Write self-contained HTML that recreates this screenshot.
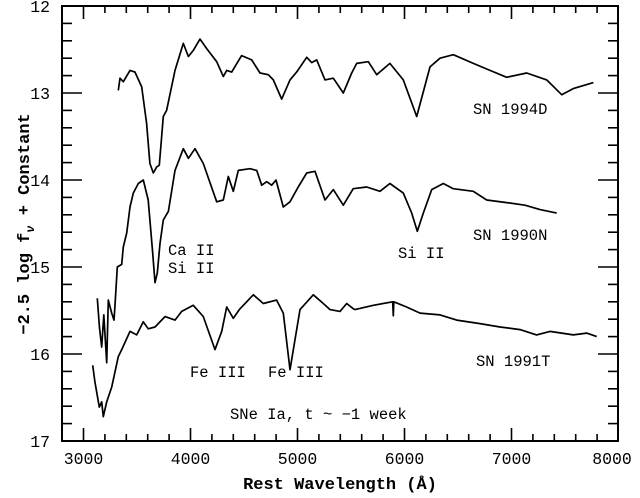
<!DOCTYPE html>
<html><head><meta charset="utf-8"><style>
html,body{margin:0;padding:0;background:#fff;}
svg text{font-family:"Liberation Mono","DejaVu Sans Mono",monospace;fill:#000;}
</style></head><body>
<svg id="chart" width="640" height="493" viewBox="0 0 640 493" xmlns="http://www.w3.org/2000/svg">
<rect x="0" y="0" width="640" height="493" fill="#fff"/>
<g id="axes"></g>
<g id="series"></g>
<g id="labels">
<text x="473" y="114" font-size="15.5">SN 1994D</text>
<text x="473" y="240" font-size="15.5">SN 1990N</text>
<text x="476" y="366" font-size="15.5">SN 1991T</text>
<text x="168" y="255" font-size="15.5">Ca II</text>
<text x="168" y="273" font-size="15.5">Si II</text>
<text x="398" y="258" font-size="15.5">Si II</text>
<text x="190" y="377" font-size="15.5">Fe III</text>
<text x="268" y="377" font-size="15.5">Fe III</text>
<text x="230" y="419" font-size="15.5">SNe Ia, t ~ −1 week</text>
<text x="340" y="489" font-size="17" font-weight="bold" text-anchor="middle">Rest Wavelength (Å)</text>
<text transform="translate(29,224) rotate(-90)" font-size="17" font-weight="bold" text-anchor="middle">−2.5 log f<tspan font-style="italic" font-size="12" dy="5">ν</tspan><tspan dy="-5"> + Constant</tspan></text>
</g>
</svg>
<script>
const xTicks=[3000,4000,5000,6000,7000,8000];
const yTicks=[12,13,14,15,16,17];
const w94=[3325,3341,3372,3435,3481,3544,3590,3621,3652,3684,3708,3746,3777,3855,3933,3980,4026,4089,4151,4245,4307,4338,4385,4478,4572,4650,4727,4774,4852,4930,4992,5086,5133,5179,5257,5335,5428,5507,5553,5662,5740,5864,5989,6114,6238,6332,6456,6643,6799,6955,7142,7329,7469,7578,7765];
const m94=[12.97,12.83,12.87,12.74,12.76,12.93,13.35,13.81,13.92,13.85,13.83,13.27,13.20,12.74,12.43,12.58,12.51,12.38,12.49,12.64,12.81,12.74,12.76,12.57,12.62,12.77,12.79,12.85,13.07,12.85,12.76,12.59,12.65,12.62,12.85,12.83,13.00,12.77,12.66,12.64,12.79,12.66,12.85,13.27,12.70,12.60,12.56,12.66,12.74,12.82,12.77,12.85,13.02,12.95,12.88];
const w90=[3129,3150,3170,3190,3217,3232,3264,3285,3294,3316,3357,3372,3404,3435,3465,3512,3559,3605,3647,3668,3690,3715,3746,3793,3855,3933,3980,4042,4120,4245,4307,4353,4400,4447,4556,4619,4665,4712,4759,4799,4867,4930,5007,5086,5164,5257,5335,5428,5521,5647,5771,5864,5989,6067,6120,6176,6254,6363,6456,6643,6768,6955,7126,7266,7422];
const m90=[15.36,15.70,15.92,15.55,16.10,15.38,15.53,15.61,15.44,15.00,14.97,14.77,14.61,14.31,14.15,14.04,14.00,14.23,14.84,15.18,15.07,14.73,14.46,14.36,13.89,13.64,13.75,13.64,13.81,14.25,14.23,13.96,14.13,13.89,13.87,13.89,14.06,14.02,14.06,14.00,14.31,14.25,14.08,13.92,13.90,14.23,14.11,14.29,14.10,14.08,14.13,14.04,14.15,14.38,14.59,14.38,14.11,14.04,14.10,14.13,14.23,14.26,14.29,14.34,14.38];
const w91=[3086,3107,3148,3170,3185,3217,3264,3325,3357,3435,3497,3559,3605,3668,3762,3855,3918,4026,4120,4229,4292,4338,4400,4456,4587,4680,4805,4867,4930,5023,5148,5241,5304,5397,5460,5522,5537,5708,5890,5895,5900,6020,6145,6332,6488,6706,6893,7079,7235,7360,7578,7703,7796];
const m91=[16.13,16.32,16.61,16.55,16.72,16.55,16.38,16.03,15.95,15.74,15.78,15.63,15.71,15.69,15.57,15.61,15.51,15.44,15.57,15.95,15.74,15.46,15.59,15.49,15.32,15.42,15.38,15.53,16.18,15.49,15.32,15.42,15.49,15.51,15.42,15.48,15.49,15.44,15.40,15.56,15.40,15.46,15.53,15.55,15.61,15.65,15.69,15.72,15.78,15.74,15.78,15.76,15.80];
const X0=62,X1=618,Y0=6,Y1=441;
function xs(w){return 83.5+(w-3000)*0.107;}
function ys(m){return 6+(m-12)*87;}
const NS="http://www.w3.org/2000/svg";
const axes=document.getElementById('axes');
function mk(tag,attrs,parent){const e=document.createElementNS(NS,tag);for(const k in attrs)e.setAttribute(k,attrs[k]);parent.appendChild(e);return e;}
const frame=mk('rect',{x:X0,y:Y0,width:X1-X0,height:Y1-Y0,fill:'none',stroke:'#000','stroke-width':2},axes);


for(let w=2800;w<=8000;w+=200){
  const x=xs(w); if(x<X0+1||x>X1-1)continue;
  const len=(w%1000===0)?13:7;
  const t1=mk('line',{x1:x,x2:x,y1:Y1,y2:Y1-len,stroke:'#000','stroke-width':1.6},axes);
  
  
  const t2=mk('line',{x1:x,x2:x,y1:Y0,y2:Y0+len,stroke:'#000','stroke-width':1.6},axes);
  
  
}
xTicks.forEach(w=>{
  const t=mk('text',{x:Math.min(xs(w),612),y:464,'font-size':16.5,'text-anchor':'middle'},axes);
  t.textContent=w;
  
  
});
for(let i=0;i<=25;i++){
  const m=12+i*0.2,y=ys(m); if(y<Y0+1||y>Y1-1)continue;
  const len=(i%5===0)?20:10;
  const a=mk('line',{x1:X0,x2:X0+len,y1:y,y2:y,stroke:'#000','stroke-width':1.6},axes);
  
  
  const b=mk('line',{x1:X1,x2:X1-len,y1:y,y2:y,stroke:'#000','stroke-width':1.6},axes);
  
  
}
yTicks.forEach(m=>{
  const t=mk('text',{x:50,y:Math.min(ys(m)+6,449),'font-size':16.5,'text-anchor':'end'},axes);
  t.textContent=m;
  
  
});
const series=document.getElementById('series');
function draw(ws,ms,name){
  const d=ws.map((w,i)=>(i?'L':'M')+xs(w).toFixed(1)+','+ys(ms[i]).toFixed(1)).join('');
  const p=mk('path',{d:d,fill:'none',stroke:'#000','stroke-width':1.7,'stroke-linejoin':'round'},series);
  
  
}
draw(w94,m94,'spectrum-sn1994d');
draw(w90,m90,'spectrum-sn1990n');
draw(w91,m91,'spectrum-sn1991t');
</script>
</body></html>
